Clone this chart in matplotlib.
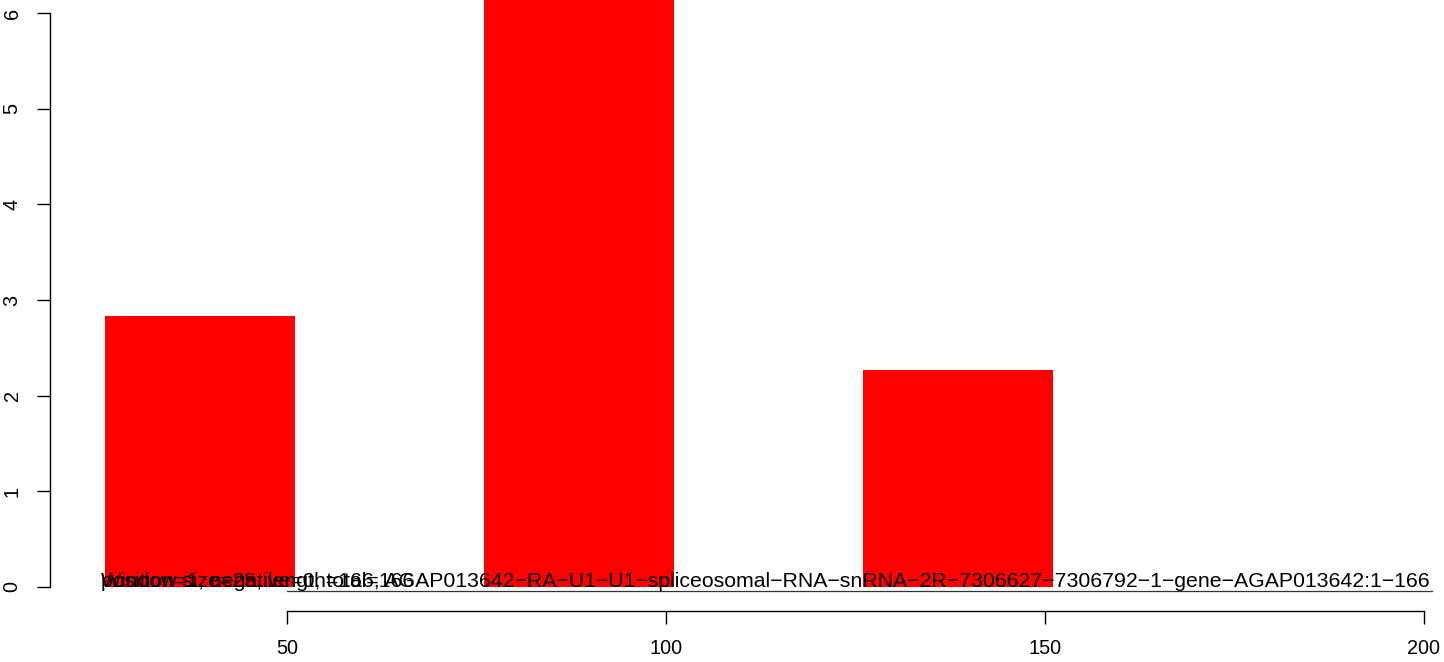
import matplotlib
matplotlib.use("Agg")
import matplotlib.pyplot as plt

plt.rcParams['font.family'] = ['Liberation Sans', 'DejaVu Sans']

# data
bar_starts = [26, 76, 126]
bar_width = 25
bar_values = [2.83, 6.5, 2.27]
x_ticks = [50, 100, 150, 200]
y_ticks = [0, 1, 2, 3, 4, 5, 6]
label_main = ("Window size=25, length=166, AGAP013642\u2212RA\u2212U1\u2212U1\u2212spliceosomal\u2212RNA\u2212snRNA"
              "\u22122R\u22127306627\u22127306792\u22121\u2212gene\u2212AGAP013642:1\u2212166")
label_second = "position=1, negative=0, total=166"
text_x = 25.4
underline_x = [50, 201]
underline_y = [-0.045, -0.045]

W, H = 1444, 662
dpi = 100
fig = plt.figure(figsize=(W / dpi, H / dpi), dpi=dpi)
left_px, right_px, bottom_px, top_px = 50, 1444, 611, 0
ax = fig.add_axes([left_px / W, 1 - bottom_px / H, (right_px - left_px) / W, (bottom_px - top_px) / H])

# scale: 50 -> 287 px, 200 -> 1424 px ; y 0 -> 587 px, 6 -> 13 px
xpx = (1424 - 287) / 150.0
ypx = (587 - 13) / 6.0
x0 = 50 - (287 - left_px) / xpx
x1 = 50 + (right_px - 287) / xpx
y0 = -(bottom_px - 587) / ypx
y1 = (587 - top_px) / ypx
ax.set_xlim(x0, x1)
ax.set_ylim(y0, y1)

ax.bar(bar_starts, bar_values, width=bar_width, align='edge', color='#FF0000', linewidth=0)

ax.plot(underline_x, underline_y, color='#333333', linewidth=0.9)
ax.text(text_x, 0, label_second, ha='left', va='baseline', fontsize=15.3, color='black')
ax.text(text_x, 0, label_main, ha='left', va='baseline', fontsize=15.3, color='black')

for s in ['top', 'right']:
    ax.spines[s].set_visible(False)
ax.spines['left'].set_bounds(0, 6)
ax.spines['bottom'].set_bounds(50, 200)
for s in ['left', 'bottom']:
    ax.spines[s].set_linewidth(1.0)

ax.set_xticks(x_ticks)
ax.set_xticklabels([str(v) for v in x_ticks])
ax.set_yticks(y_ticks)
ax.set_yticklabels([str(v) for v in y_ticks], rotation=90, va='center')
ax.tick_params(axis='both', length=9.5, width=1.0, labelsize=14.3, pad=11, direction='out')

fig.savefig('out.png', dpi=dpi)
